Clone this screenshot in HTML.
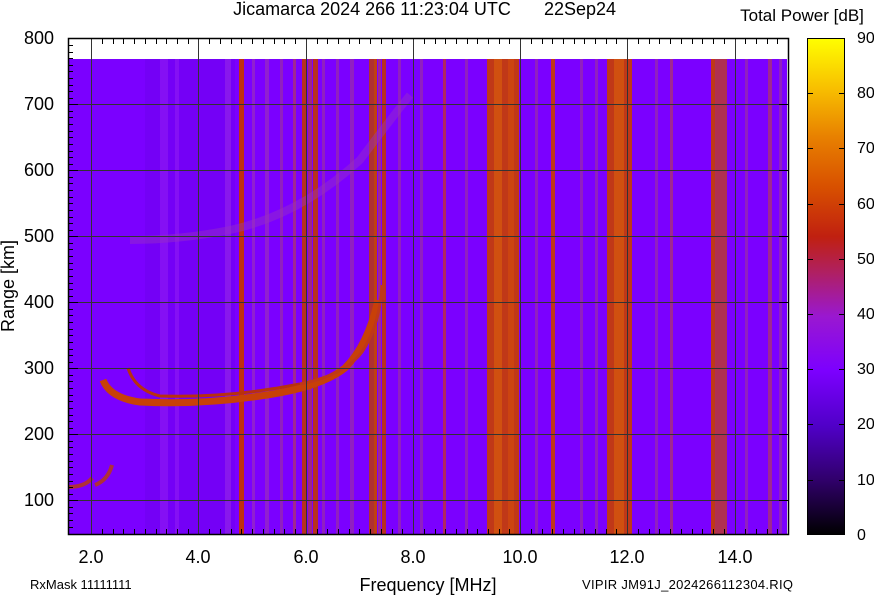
<!DOCTYPE html>
<html><head><style>
body{margin:0;background:#fff;width:874px;height:595px;overflow:hidden;font-family:"Liberation Sans",sans-serif}
</style></head><body>
<svg width="874" height="595" xmlns="http://www.w3.org/2000/svg" font-family="Liberation Sans, sans-serif">
<defs>
<linearGradient id="cb" x1="0" y1="1" x2="0" y2="0">
<stop offset="0" stop-color="#000"/>
<stop offset="0.11" stop-color="#30006a"/>
<stop offset="0.22" stop-color="#5000c8"/>
<stop offset="0.33" stop-color="#7c00ff"/>
<stop offset="0.44" stop-color="#9a18d0"/>
<stop offset="0.53" stop-color="#b02060"/>
<stop offset="0.6" stop-color="#c02010"/>
<stop offset="0.7" stop-color="#d85000"/>
<stop offset="0.8" stop-color="#e88000"/>
<stop offset="0.9" stop-color="#f8c000"/>
<stop offset="1" stop-color="#ffff00"/>
</linearGradient>
</defs>
<text x="372" y="15" font-size="18" text-anchor="middle">Jicamarca 2024 266 11:23:04 UTC</text>
<text x="580" y="15" font-size="18" text-anchor="middle">22Sep24</text>
<text x="802" y="21" font-size="17" text-anchor="middle">Total Power [dB]</text>
<rect x="68" y="38" width="721" height="497" fill="#fff"/>
<rect x="68" y="59" width="719" height="476" fill="#7b00ff"/>
<g>
<rect x="145" y="59" width="90" height="476" fill="#6e00ee" opacity="0.5"/>
<rect x="160" y="59" width="8" height="476" fill="#8510f4"/>
<rect x="175" y="59" width="4" height="476" fill="#8510f4"/>
<rect x="225" y="59" width="6" height="476" fill="#8818ec"/>
<rect x="239" y="59" width="5" height="476" fill="#c03010"/>
<rect x="252" y="59" width="3" height="476" fill="#9020d0"/>
<rect x="265" y="59" width="4" height="476" fill="#9020d0"/>
<rect x="280" y="59" width="3" height="476" fill="#9020c0"/>
<rect x="293" y="59" width="3" height="476" fill="#a02890"/>
<rect x="302" y="59" width="5" height="476" fill="#b83020"/>
<rect x="308" y="59" width="4" height="476" fill="#a02880"/>
<rect x="313" y="59" width="5" height="476" fill="#b83020"/>
<rect x="322" y="59" width="3" height="476" fill="#9020c0"/>
<rect x="336" y="59" width="3" height="476" fill="#9020c0"/>
<rect x="350" y="59" width="4" height="476" fill="#9020c0"/>
<rect x="369" y="59" width="5" height="476" fill="#b03030"/>
<rect x="374" y="59" width="3" height="476" fill="#c04010"/>
<rect x="378" y="59" width="3" height="476" fill="#a02890"/>
<rect x="382" y="59" width="4" height="476" fill="#b83020"/>
<rect x="398" y="59" width="3" height="476" fill="#9020c0"/>
<rect x="420" y="59" width="3" height="476" fill="#9020c0"/>
<rect x="443" y="59" width="3" height="476" fill="#b02860"/>
<rect x="465" y="59" width="3" height="476" fill="#9020c0"/>
<rect x="487" y="59" width="32" height="476" fill="#c03818"/>
<rect x="494" y="59" width="8" height="476" fill="#d05010"/>
<rect x="508" y="59" width="6" height="476" fill="#cc4410"/>
<rect x="535" y="59" width="3" height="476" fill="#9020c0"/>
<rect x="551" y="59" width="4" height="476" fill="#c03818"/>
<rect x="580" y="59" width="3" height="476" fill="#9020c0"/>
<rect x="595" y="59" width="3" height="476" fill="#9020c0"/>
<rect x="607" y="59" width="25" height="476" fill="#c03818"/>
<rect x="614" y="59" width="10" height="476" fill="#d05010"/>
<rect x="655" y="59" width="3" height="476" fill="#9020c0"/>
<rect x="670" y="59" width="3" height="476" fill="#a02890"/>
<rect x="711" y="59" width="4" height="476" fill="#c03818"/>
<rect x="715" y="59" width="12" height="476" fill="#b03050"/>
<rect x="745" y="59" width="3" height="476" fill="#9020c0"/>
<rect x="768" y="59" width="4" height="476" fill="#a02890"/>
<rect x="779" y="59" width="3" height="476" fill="#9020c0"/>
</g>
<path d="M130 240 Q 180 240 230 230 Q 300 215 360 160 Q 390 120 410 95" stroke="#9a30c0" stroke-width="8" fill="none" opacity="0.45"/>
<path d="M128 368 Q 135 390 160 396 Q 230 398 300 384" stroke="#b83010" stroke-width="3" fill="none"/>
<path d="M103 380 Q 110 398 140 402 Q 200 405 260 396 Q 320 388 345 368 Q 368 345 378 300" stroke="#c84008" stroke-width="7" fill="none"/>
<path d="M300 384 Q 345 375 362 352 Q 380 325 382 285" stroke="#c03818" stroke-width="3" fill="none"/>
<path d="M384 260 L 384 300" stroke="#c03818" stroke-width="3"/>
<path d="M68 487 Q 85 487 92 478 M95 485 Q 108 480 112 465" stroke="#b03038" stroke-width="4" fill="none"/>
<g stroke="#333" stroke-width="1">
<line x1="91.5" y1="38" x2="91.5" y2="535"/><line x1="198.5" y1="38" x2="198.5" y2="535"/>
<line x1="306.5" y1="38" x2="306.5" y2="535"/><line x1="413.5" y1="38" x2="413.5" y2="535"/>
<line x1="520.5" y1="38" x2="520.5" y2="535"/><line x1="627.5" y1="38" x2="627.5" y2="535"/>
<line x1="735.5" y1="38" x2="735.5" y2="535"/>
<line x1="68" y1="104.5" x2="789" y2="104.5"/><line x1="68" y1="170.5" x2="789" y2="170.5"/>
<line x1="68" y1="236.5" x2="789" y2="236.5"/><line x1="68" y1="302.5" x2="789" y2="302.5"/>
<line x1="68" y1="368.5" x2="789" y2="368.5"/><line x1="68" y1="434.5" x2="789" y2="434.5"/>
<line x1="68" y1="500.5" x2="789" y2="500.5"/>
</g>
<rect x="68.5" y="38.5" width="720" height="496" fill="none" stroke="#000" stroke-width="1.5"/>
<g stroke="#000" stroke-width="1">
<path d="M68 45.5h5M68 52.5h5M68 58.5h5M68 65.5h5M68 71.5h5M68 78.5h5M68 85.5h5M68 91.5h5M68 98.5h5M68 111.5h5M68 117.5h5M68 124.5h5M68 131.5h5M68 137.5h5M68 144.5h5M68 151.5h5M68 157.5h5M68 164.5h5M68 177.5h5M68 183.5h5M68 190.5h5M68 197.5h5M68 203.5h5M68 210.5h5M68 217.5h5M68 223.5h5M68 230.5h5M68 243.5h5M68 249.5h5M68 256.5h5M68 263.5h5M68 269.5h5M68 276.5h5M68 283.5h5M68 289.5h5M68 296.5h5M68 309.5h5M68 315.5h5M68 322.5h5M68 329.5h5M68 335.5h5M68 342.5h5M68 349.5h5M68 355.5h5M68 362.5h5M68 375.5h5M68 381.5h5M68 388.5h5M68 395.5h5M68 401.5h5M68 408.5h5M68 415.5h5M68 421.5h5M68 428.5h5M68 441.5h5M68 447.5h5M68 454.5h5M68 461.5h5M68 467.5h5M68 474.5h5M68 481.5h5M68 487.5h5M68 494.5h5M68 507.5h5M68 513.5h5M68 520.5h5M68 527.5h5"/>
<path d="M68 38.5h10M68 104.5h10M68 170.5h10M68 236.5h10M68 302.5h10M68 368.5h10M68 434.5h10M68 500.5h10"/>
<path d="M789 104.5h-10M789 170.5h-10M789 236.5h-10M789 302.5h-10M789 368.5h-10M789 434.5h-10M789 500.5h-10"/>
</g>
<g stroke="#000">
<path d="M102.5 38v6M113.5 38v6M123.5 38v6M134.5 38v6M145.5 38v6M156.5 38v6M166.5 38v6M177.5 38v6M188.5 38v6M209.5 38v6M220.5 38v6M231.5 38v6M241.5 38v6M252.5 38v6M263.5 38v6M274.5 38v6M284.5 38v6M295.5 38v6M317.5 38v6M327.5 38v6M338.5 38v6M349.5 38v6M359.5 38v6M370.5 38v6M381.5 38v6M392.5 38v6M402.5 38v6M424.5 38v6M435.5 38v6M445.5 38v6M456.5 38v6M467.5 38v6M477.5 38v6M488.5 38v6M499.5 38v6M509.5 38v6M531.5 38v6M542.5 38v6M552.5 38v6M563.5 38v6M574.5 38v6M584.5 38v6M595.5 38v6M606.5 38v6M616.5 38v6M638.5 38v6M649.5 38v6M659.5 38v6M670.5 38v6M681.5 38v6M692.5 38v6M702.5 38v6M713.5 38v6M724.5 38v6M745.5 38v6M756.5 38v6M767.5 38v6M777.5 38v6"/>
<path d="M102.5 535v-6M113.5 535v-6M123.5 535v-6M134.5 535v-6M145.5 535v-6M156.5 535v-6M166.5 535v-6M177.5 535v-6M188.5 535v-6M209.5 535v-6M220.5 535v-6M231.5 535v-6M241.5 535v-6M252.5 535v-6M263.5 535v-6M274.5 535v-6M284.5 535v-6M295.5 535v-6M317.5 535v-6M327.5 535v-6M338.5 535v-6M349.5 535v-6M359.5 535v-6M370.5 535v-6M381.5 535v-6M392.5 535v-6M402.5 535v-6M424.5 535v-6M435.5 535v-6M445.5 535v-6M456.5 535v-6M467.5 535v-6M477.5 535v-6M488.5 535v-6M499.5 535v-6M509.5 535v-6M531.5 535v-6M542.5 535v-6M552.5 535v-6M563.5 535v-6M574.5 535v-6M584.5 535v-6M595.5 535v-6M606.5 535v-6M616.5 535v-6M638.5 535v-6M649.5 535v-6M659.5 535v-6M670.5 535v-6M681.5 535v-6M692.5 535v-6M702.5 535v-6M713.5 535v-6M724.5 535v-6M745.5 535v-6M756.5 535v-6M767.5 535v-6M777.5 535v-6"/>
</g>
<g font-size="18" text-anchor="end">
<text x="54" y="44">800</text><text x="54" y="110">700</text><text x="54" y="176">600</text>
<text x="54" y="242">500</text><text x="54" y="308">400</text><text x="54" y="374">300</text>
<text x="54" y="440">200</text><text x="54" y="506">100</text>
</g>
<g font-size="18" text-anchor="middle">
<text x="91" y="563">2.0</text><text x="198" y="563">4.0</text><text x="306" y="563">6.0</text>
<text x="413" y="563">8.0</text><text x="520" y="563">10.0</text><text x="627" y="563">12.0</text>
<text x="735" y="563">14.0</text>
</g>
<text x="428" y="591" font-size="18" text-anchor="middle">Frequency [MHz]</text>
<text x="14" y="286" font-size="18" text-anchor="middle" transform="rotate(-90 14 286)">Range [km]</text>
<text x="30" y="589" font-size="13">RxMask 11111111</text>
<text x="582" y="589" font-size="13" textLength="211" lengthAdjust="spacing">VIPIR  JM91J_2024266112304.RIQ</text>
<rect x="807" y="38" width="38" height="497" fill="url(#cb)"/>
<rect x="807.5" y="38.5" width="37" height="496" fill="none" stroke="#000"/>
<g stroke="#000"><path d="M807 93.5h6M807 148.5h6M807 204.5h6M807 259.5h6M807 314.5h6M807 369.5h6M807 424.5h6M807 480.5h6M845 93.5h-6M845 148.5h-6M845 204.5h-6M845 259.5h-6M845 314.5h-6M845 369.5h-6M845 424.5h-6M845 480.5h-6"/></g>
<g font-size="16">
<text x="857" y="43">90</text><text x="857" y="98">80</text><text x="857" y="153">70</text>
<text x="857" y="209">60</text><text x="857" y="264">50</text><text x="857" y="319">40</text>
<text x="857" y="374">30</text><text x="857" y="429">20</text><text x="857" y="485">10</text>
<text x="857" y="540">0</text>
</g>
</svg>
</body></html>
